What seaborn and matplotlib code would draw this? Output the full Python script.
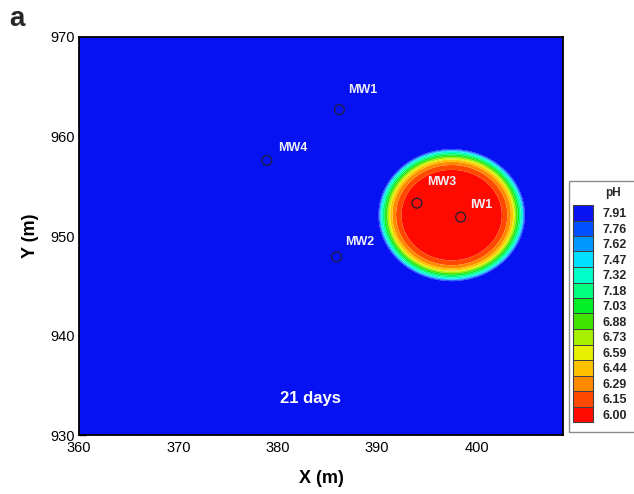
import numpy as np
import seaborn as sns
import matplotlib.pyplot as plt
from matplotlib.colors import ListedColormap, BoundaryNorm
from matplotlib.cm import ScalarMappable
from matplotlib.patches import Rectangle
from matplotlib.ticker import MultipleLocator

# Contour levels (pH) and their fill colours, lowest to highest
ph_levels = [6.00, 6.15, 6.29, 6.44, 6.59, 6.73, 6.88, 7.03, 7.18, 7.32, 7.47, 7.62, 7.76, 7.91]
level_colors = ["#ff0a00", "#ff4800", "#ff8a00", "#ffc200", "#e6f000", "#a6f000",
                "#40e400", "#00f028", "#00ff80", "#00ffc8", "#00e0ff", "#0098ff",
                "#0050ff", "#0612f2"]

# Monitoring / injection wells
well_names = ["MW1", "MW4", "MW2", "MW3", "IW1"]
well_x = [386.2, 378.9, 385.9, 394.0, 398.4]
well_y = [962.7, 957.6, 947.9, 953.3, 951.9]

# Acid plume after 21 days: radial pH profile around the plume centre
plume_cx, plume_cy = 397.5, 952.1
plume_radius = [0.0, 4.6, 5.05, 5.6, 6.1, 6.6, 7.1, 7.35, 7.6, 40.0]
plume_ph = [5.95, 6.0, 6.15, 6.29, 6.5, 7.0, 7.47, 7.91, 8.0, 8.0]

x_range = (360.0, 408.7)
y_range = (930.0, 970.0)

sns.set_theme(style="white")
plt.rcParams["font.family"] = ["Liberation Sans", "DejaVu Sans"]

fig = plt.figure(figsize=(6.34, 4.94), dpi=100)
ax = fig.add_axes([79 / 634, 1 - 435 / 494, 484 / 634, 398 / 494])

# pH field on a regular grid
gx = np.arange(x_range[0], x_range[1] + 0.05, 0.05)
gy = np.arange(y_range[0], y_range[1] + 0.05, 0.05)
GX, GY = np.meshgrid(gx, gy)
dist = np.sqrt((GX - plume_cx) ** 2 + ((GY - plume_cy) / 0.9) ** 2)
PH = np.interp(dist, plume_radius, plume_ph)

bounds = [5.0] + ph_levels[1:] + [9.0]
ax.contourf(GX, GY, PH, levels=bounds, colors=level_colors, antialiased=True)

# Wells
sns.scatterplot(x=well_x, y=well_y, s=50, marker="o", facecolor="none",
                edgecolor="#1e1e38", linewidth=0.9, ax=ax, zorder=3, legend=False)
label_offsets = {"MW1": (17, 14), "MW4": (19, 9), "MW2": (17, 11),
                 "MW3": (18, 15), "IW1": (15, 9)}
for name, wx, wy in zip(well_names, well_x, well_y):
    ax.annotate(name, (wx, wy), xytext=label_offsets[name], textcoords="offset points",
                ha="center", va="center", color="#eeeef6", fontsize=9,
                fontweight="bold", zorder=4)

ax.text(383.3, 933.7, "21 days", color="white", fontsize=12, fontweight="bold",
        ha="center", va="center", zorder=4)

ax.set_xlim(*x_range)
ax.set_ylim(*y_range)
ax.xaxis.set_major_locator(MultipleLocator(10))
ax.yaxis.set_major_locator(MultipleLocator(10))
ax.xaxis.set_minor_locator(MultipleLocator(2))
ax.yaxis.set_minor_locator(MultipleLocator(2))
ax.tick_params(which="both", direction="in", color="black", bottom=True, left=True,
               top=False, right=False)
ax.tick_params(which="major", length=5, width=1.0, labelsize=10.5, labelcolor="black")
ax.tick_params(axis="x", which="major", pad=4)
ax.tick_params(axis="y", which="major", pad=3)
ax.tick_params(which="minor", length=2.5, width=0.8)
for sp in ax.spines.values():
    sp.set_visible(True)
    sp.set_color("black")
    sp.set_linewidth(1.3)
ax.set_xlabel("X (m)", fontsize=13, fontweight="bold", color="black", labelpad=11)
ax.set_ylabel("Y (m)", fontsize=13, fontweight="bold", color="black", labelpad=8)

fig.text(17 / 634, 1 - 19 / 494, "a", fontsize=20, fontweight="bold",
         ha="center", va="center")

# Legend box with colour swatches
fig.patches.append(Rectangle((569 / 634, 1 - 432 / 494), 70 / 634, 251 / 494,
                             transform=fig.transFigure, facecolor="white",
                             edgecolor="#8a8a8a", linewidth=1.0, zorder=-5))
fig.text(613 / 634, 1 - 193 / 494, "pH", fontsize=8.5, fontweight="bold",
         ha="center", va="center")
cax = fig.add_axes([573 / 634, 1 - 422 / 494, 20 / 634, 217 / 494])
cax.set_zorder(2)
n = len(ph_levels)
sm = ScalarMappable(norm=BoundaryNorm(np.arange(n + 1), n), cmap=ListedColormap(level_colors))
cb = fig.colorbar(sm, cax=cax, ticks=np.arange(n) + 0.5)
cb.set_ticklabels([f"{v:.2f}" for v in ph_levels])
cb.solids.set_edgecolor("#404040")
cb.solids.set_linewidth(0.7)
cb.outline.set_edgecolor("#404040")
cb.outline.set_linewidth(0.8)
cax.tick_params(which="both", length=0, width=0, pad=7, labelsize=9)
cax.minorticks_off()
for lab in cax.get_yticklabels():
    lab.set_fontweight("bold")

fig.savefig("out.png", dpi=100)
